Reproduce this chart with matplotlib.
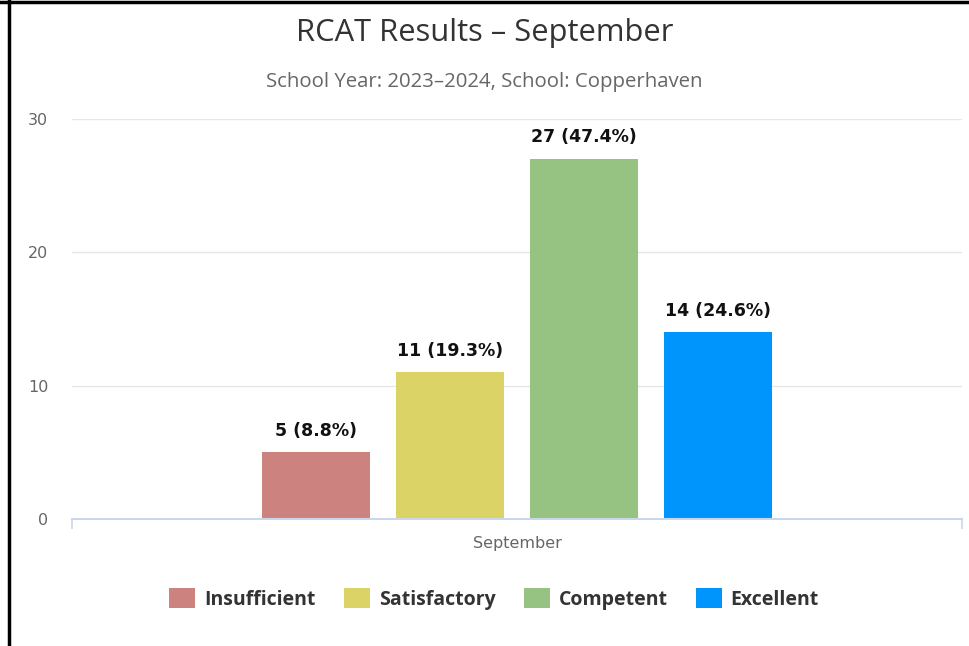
import matplotlib.pyplot as plt
from matplotlib.lines import Line2D

# data
category = "September"
levels = ["Insufficient", "Satisfactory", "Competent", "Excellent"]
counts = [5, 11, 27, 14]
colors = ["#cc837f", "#dcd366", "#96c382", "#0094fd"]
yticks = [0, 10, 20, 30]

total = sum(counts)

fig = plt.figure(figsize=(9.69, 6.46), dpi=100)
ax = fig.add_axes([72 / 969, 1 - 519 / 646, 890 / 969, 400 / 646])

width = 0.121
step = 0.1506
offsets = [(i - (len(levels) - 1) / 2) * step for i in range(len(levels))]

for off, lev, n, c in zip(offsets, levels, counts, colors):
    ax.bar(off, n, width=width, color=c, label=lev, zorder=3)
    ax.annotate("%d (%.1f%%)" % (n, 100.0 * n / total), (off, n),
                xytext=(0, 9), textcoords="offset points", ha="center", va="bottom",
                fontsize=12.5, fontweight="bold", color="#111111", family="DejaVu Sans")

ax.set_xlim(-0.5, 0.5)
ax.set_ylim(0, 30)
ax.set_yticks(yticks)
ax.set_yticklabels([str(t) for t in yticks])
ax.tick_params(axis="y", length=0, pad=17, labelsize=11.5, labelcolor="#666666")
ax.grid(axis="y", color="#e6e6e6", linewidth=1, zorder=0)

# category ticks at the edges, label in the middle
ax.set_xticks([-0.5, 0.5])
ax.set_xticklabels(["", ""])
ax.tick_params(axis="x", which="major", length=7, width=1.2, color="#ccd6eb")
ax.set_xticks([0], minor=True)
ax.set_xticklabels([category], minor=True)
ax.tick_params(axis="x", which="minor", length=0, pad=12, labelsize=11.5, labelcolor="#666666")

for s in ["top", "right", "left"]:
    ax.spines[s].set_visible(False)
ax.spines["bottom"].set_color("#ccd6eb")
ax.spines["bottom"].set_linewidth(1.5)
ax.spines["bottom"].set_zorder(4)

fig.text(0.5, 1 - 33 / 646, "RCAT Results – September", ha="center", va="center",
         fontsize=22.2, color="#333333", family="Open Sans")
fig.text(0.5, 1 - 82 / 646, "School Year: 2023–2024, School: Copperhaven", ha="center", va="center",
         fontsize=14.7, color="#666666", family="Open Sans")

leg = fig.legend(loc="center", bbox_to_anchor=(494 / 969, 1 - 599 / 646), ncol=4, frameon=False,
                 handlelength=1.35, handleheight=1.15, handletextpad=0.45, columnspacing=1.45,
                 prop={"family": "Open Sans", "weight": "bold", "size": 14})
for t in leg.get_texts():
    t.set_color("#333333")

# black frame on top and left
fig.add_artist(Line2D([0, 1], [1 - 1.5 / 646, 1 - 1.5 / 646], color="black", linewidth=2.5,
                      transform=fig.transFigure))
fig.add_artist(Line2D([9 / 969, 9 / 969], [0, 1], color="black", linewidth=2.5,
                      transform=fig.transFigure))

fig.savefig("out.png", dpi=100)
